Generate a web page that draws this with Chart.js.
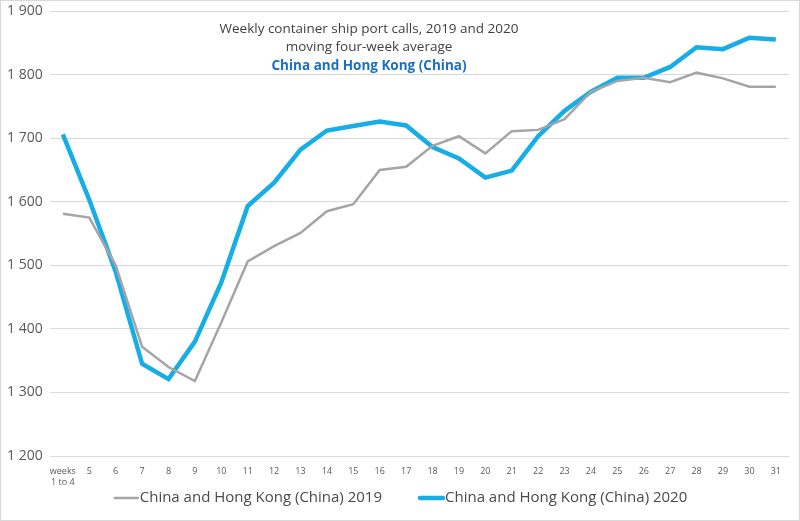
<!DOCTYPE html>
<html>
<head>
<meta charset="utf-8">
<script src="https://cdn.jsdelivr.net/npm/chart.js@4"></script>
<style>
  html, body { margin: 0; padding: 0; background: #fff; }
  #wrap { width: 800px; height: 521px; position: relative; }
</style>
</head>
<body>
<div id="wrap"><canvas id="chart"></canvas></div>
<script>
const weeks = [['weeks', '1 to 4'], '5', '6', '7', '8', '9', '10', '11', '12', '13', '14', '15', '16', '17',
  '18', '19', '20', '21', '22', '23', '24', '25', '26', '27', '28', '29', '30', '31'];

const calls2019 = [1581, 1575, 1500, 1372, 1340, 1318, 1410, 1506, 1530, 1551, 1585, 1596, 1650, 1655,
  1688, 1703, 1676, 1711, 1713, 1730, 1773, 1790, 1795, 1788, 1803, 1794, 1781, 1781];

const calls2020 = [1706, 1603, 1490, 1345, 1321, 1380, 1473, 1593, 1630, 1682, 1712, 1719, 1726, 1720,
  1686, 1668, 1638, 1649, 1703, 1743, 1773, 1795, 1795, 1812, 1843, 1840, 1858, 1855];

const titleLines = [
  'Weekly container ship port calls, 2019 and 2020',
  'moving four-week average',
  'China and Hong Kong (China)'
];

const fontFamily = '"Open Sans", "Noto Sans", sans-serif';

// title inside the plot area, legend along the bottom, outer frame
const overlay = {
  id: 'overlay',
  afterDraw(chart) {
    const ctx = chart.ctx;
    ctx.save();
    ctx.strokeStyle = '#d9d9d9';
    ctx.lineWidth = 1;
    ctx.strokeRect(0.5, 0.5, chart.width - 1, chart.height - 1);

    ctx.textAlign = 'center';
    ctx.textBaseline = 'middle';
    const cx = 369;
    ctx.fillStyle = '#404040';
    ctx.font = '13.5px ' + fontFamily;
    ctx.fillText(titleLines[0], cx, 29);
    ctx.fillText(titleLines[1], cx, 47);
    ctx.fillStyle = '#1a6fc0';
    ctx.font = 'bold 13.5px ' + fontFamily;
    ctx.fillText(titleLines[2], cx, 66);

    // legend
    ctx.font = '15px ' + fontFamily;
    ctx.textAlign = 'left';
    const sets = chart.data.datasets;
    const sample = 23, gap = 2, between = 38, ly = 498;
    const widths = sets.map(d => sample + gap + ctx.measureText(d.label).width);
    const total = widths.reduce((a, b) => a + b, 0) + between * (sets.length - 1);
    let x = 401 - total / 2;
    sets.forEach((d, i) => {
      ctx.strokeStyle = d.borderColor;
      ctx.lineWidth = d.borderWidth;
      ctx.lineCap = 'round';
      ctx.beginPath();
      ctx.moveTo(x, ly);
      ctx.lineTo(x + sample, ly);
      ctx.stroke();
      ctx.fillStyle = '#4a4a4a';
      ctx.fillText(d.label, x + sample + gap, ly);
      x += widths[i] + between;
    });
    ctx.restore();
  }
};

new Chart(document.getElementById('chart'), {
  type: 'line',
  data: {
    labels: weeks,
    datasets: [
      {
        label: 'China and Hong Kong (China) 2019',
        data: calls2019,
        borderColor: '#a5a5a5',
        backgroundColor: '#a5a5a5',
        borderWidth: 2.5,
        pointRadius: 0,
        tension: 0
      },
      {
        label: 'China and Hong Kong (China) 2020',
        data: calls2020,
        borderColor: '#17ade6',
        backgroundColor: '#17ade6',
        borderWidth: 4.5,
        pointRadius: 0,
        tension: 0
      }
    ]
  },
  options: {
    responsive: true,
    maintainAspectRatio: false,
    animation: false,
    layout: { padding: { left: 0, right: 11, top: 11, bottom: 0 } },
    plugins: {
      legend: { display: false },
      tooltip: { enabled: false }
    },
    scales: {
      x: {
        offset: true,
        grid: { display: false },
        border: { display: false },
        ticks: {
          color: '#595959',
          font: { family: fontFamily, size: 9 },
          maxRotation: 0,
          autoSkip: false,
          padding: 2
        },
        afterFit(scale) { scale.height = 65; }
      },
      y: {
        min: 1200,
        max: 1900,
        grid: { color: '#d9d9d9', drawTicks: false },
        border: { display: false },
        ticks: {
          stepSize: 100,
          color: '#595959',
          padding: 7,
          font: { family: fontFamily, size: 14 },
          callback: v => String(v).replace(/\B(?=(\d{3})+(?!\d))/g, ' ')
        },
        afterFit(scale) { scale.paddingTop = 0; scale.paddingBottom = 0; }
      }
    }
  },
  plugins: [overlay]
});
</script>
</body>
</html>
